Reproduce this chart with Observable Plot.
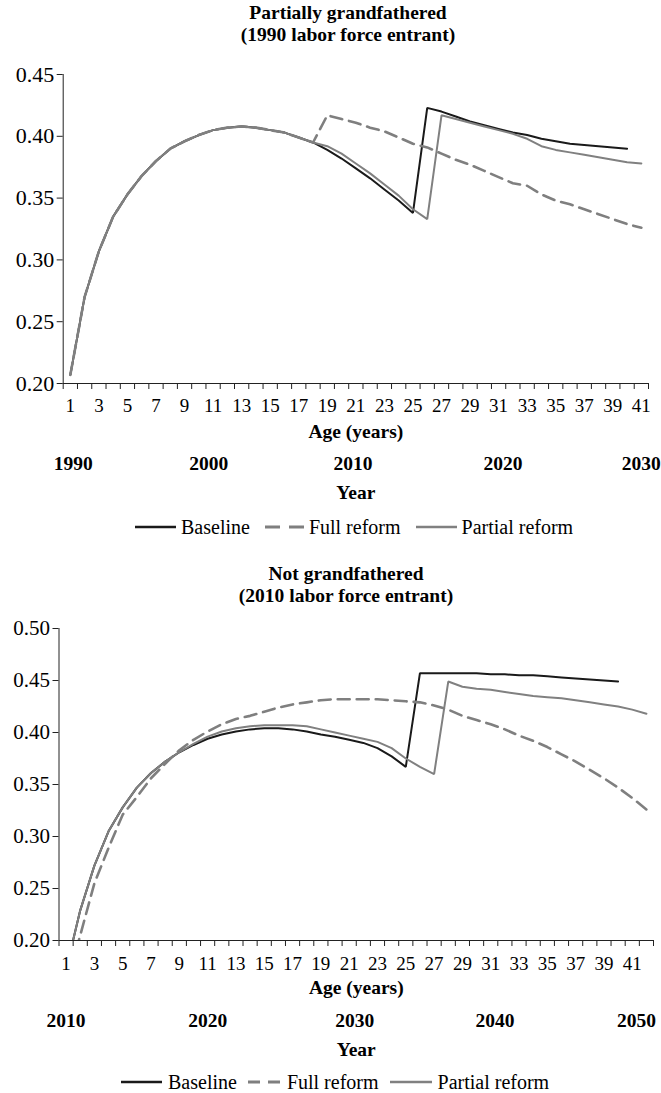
<!DOCTYPE html>
<html>
<head>
<meta charset="utf-8">
<script src="https://cdn.jsdelivr.net/npm/d3@7"></script>
<script src="https://cdn.jsdelivr.net/npm/@observablehq/plot@0.6"></script>
<style>
  html, body { margin: 0; padding: 0; background: #fff; }
  body { font-family: "Liberation Serif", "Times New Roman", serif; color: #000; }
  #wrap { position: relative; width: 661px; height: 1093px; overflow: hidden; }
  .title { position: absolute; text-align: center; font-weight: bold; font-size: 19.5px; line-height: 22px; }
  .chart { position: absolute; left: 0; }
  .legend { position: absolute; display: flex; align-items: center; font-size: 20px; line-height: 20px; white-space: nowrap; }
  .legend .item { display: flex; align-items: center; }
  .legend svg { display: block; }
</style>
</head>
<body>
<div id="wrap"></div>
<script>
// ---------------- DATA ----------------
// Panel 1: Partially grandfathered (1990 labor force entrant), ages 1..41
const ages1 = [1,2,3,4,5,6,7,8,9,10,11,12,13,14,15,16,17,18,19,20,21,22,23,24,25,26,27,28,29,30,31,32,33,34,35,36,37,38,39,40,41];
const baseline1 = [0.207,0.270,0.307,0.335,0.353,0.368,0.380,0.390,0.396,0.401,0.405,0.407,0.408,0.407,0.405,0.403,0.399,0.395,
  0.389,0.382,0.374,0.366,0.357,0.348,0.338,0.423,0.420,0.416,0.412,0.409,0.406,0.403,0.401,0.398,0.396,0.394,0.393,0.392,0.391,0.390];
const fullReform1 = [0.207,0.270,0.307,0.335,0.353,0.368,0.380,0.390,0.396,0.401,0.405,0.407,0.408,0.407,0.405,0.403,0.399,0.395,
  0.417,0.414,0.411,0.407,0.404,0.399,0.394,0.391,0.386,0.381,0.377,0.372,0.367,0.362,0.360,0.353,0.348,0.345,0.341,0.337,0.333,0.329,0.326];
const partialReform1 = [0.207,0.270,0.307,0.335,0.353,0.368,0.380,0.390,0.396,0.401,0.405,0.407,0.408,0.407,0.405,0.403,0.399,0.395,
  0.392,0.386,0.378,0.370,0.361,0.352,0.341,0.333,0.417,0.414,0.411,0.408,0.405,0.402,0.398,0.392,0.389,0.387,0.385,0.383,0.381,0.379,0.378];
const yTicks1 = [0.20,0.25,0.30,0.35,0.40,0.45];
const yearLabels1 = ["1990","2000","2010","2020","2030"];
const yearAges1 = [1.2,10.7,20.8,31.3,41.0];

// Panel 2: Not grandfathered (2010 labor force entrant), ages 1..42
const ages2 = [1,2,3,4,5,6,7,8,9,10,11,12,13,14,15,16,17,18,19,20,21,22,23,24,25,26,27,28,29,30,31,32,33,34,35,36,37,38,39,40,41,42];
const baseline2 = [0.172,0.229,0.272,0.305,0.328,0.347,0.361,0.372,0.381,0.388,0.394,0.398,0.401,0.403,0.404,0.404,0.403,0.401,0.398,0.396,
  0.393,0.390,0.385,0.377,0.367,0.457,0.457,0.457,0.457,0.457,0.456,0.456,0.455,0.455,0.454,0.453,0.452,0.451,0.450,0.449];
const fullReform2 = [0.155,0.205,0.255,0.289,0.321,0.338,0.356,0.370,0.383,0.393,0.401,0.408,0.413,0.416,0.420,0.424,0.427,0.429,0.431,0.432,
  0.432,0.432,0.432,0.431,0.430,0.429,0.426,0.422,0.416,0.412,0.408,0.403,0.397,0.392,0.386,0.379,0.372,0.364,0.356,0.347,0.337,0.326];
const partialReform2 = [0.172,0.229,0.272,0.305,0.328,0.347,0.361,0.372,0.381,0.389,0.396,0.401,0.404,0.406,0.407,0.407,0.407,0.406,0.403,0.400,
  0.397,0.394,0.391,0.385,0.375,0.367,0.360,0.449,0.444,0.442,0.441,0.439,0.437,0.435,0.434,0.433,0.431,0.429,0.427,0.425,0.422,0.418];
const yTicks2 = [0.20,0.25,0.30,0.35,0.40,0.45,0.50];
const yearLabels2 = ["2010","2020","2030","2040","2050"];
const yearAges2 = [1.0,11.0,21.4,31.3,41.3];

const ageTickLabels = [1,3,5,7,9,11,13,15,17,19,21,23,25,27,29,31,33,35,37,39,41];
const seriesNames = ["Baseline","Full reform","Partial reform"];

// ---------------- STYLE ----------------
const FONT = "Liberation Serif, Times New Roman, serif";
const styles = {
  "Baseline": {stroke: "#1a1a1a", strokeWidth: 2, dash: null},
  "Full reform": {stroke: "#7f7f7f", strokeWidth: 2.6, dash: "12,7"},
  "Partial reform": {stroke: "#808080", strokeWidth: 2, dash: null}
};

function rows(ages, vals) { return vals.map((v, i) => ({age: ages[i], v})); }

function panel(cfg) {
  const nCat = cfg.nCat;
  const boundaries = d3.range(0.5, nCat + 1, 1);
  const series = [cfg.baseline, cfg.full, cfg.partial];
  const lineMarks = seriesNames.map((name, k) => Plot.line(rows(cfg.ages, series[k]), {
    x: "age", y: "v",
    stroke: styles[name].stroke,
    strokeWidth: styles[name].strokeWidth,
    strokeDasharray: styles[name].dash,
    strokeLinejoin: "miter",
    clip: true
  }));
  const mid = (nCat + 1) / 2;
  return Plot.plot({
    width: 661,
    height: cfg.marginTop + cfg.plotH + cfg.marginBottom,
    marginTop: cfg.marginTop,
    marginBottom: cfg.marginBottom,
    marginLeft: cfg.marginLeft,
    marginRight: cfg.marginRight,
    style: {fontFamily: FONT, background: "#fff", color: "#000", overflow: "visible"},
    x: {domain: [0.5, nCat + 0.5], axis: null},
    y: {domain: [0.2, cfg.yMax], axis: null},
    marks: [
      Plot.axisY({ticks: cfg.yTicks, tickFormat: d3.format(".2f"), tickSize: 6, tickPadding: 3,
        fontSize: cfg.yFont, label: null, stroke: "#222"}),
      Plot.axisX({ticks: boundaries, tickFormat: () => "", tickSize: 6, label: null, stroke: "#222"}),
      Plot.axisX({ticks: ageTickLabels, tickSize: 0, tickPadding: 0, dy: cfg.tickDy,
        fontSize: 19, label: null, lineAnchor: "middle", textAnchor: "middle"}),
      Plot.ruleY([0.2], {stroke: "#222", strokeWidth: 1}),
      Plot.ruleX([0.5], {y1: 0.2, y2: cfg.yMax, stroke: "#222", strokeWidth: 1}),
      ...lineMarks,
      Plot.text(["Age (years)"], {x: [mid], text: d => d, frameAnchor: "bottom", dy: cfg.ageDy,
        fontWeight: "bold", fontSize: 19.5}),
      Plot.text(cfg.yearLabels, {x: cfg.yearAges, text: d => d, frameAnchor: "bottom", dy: cfg.yearDy,
        fontWeight: "bold", fontSize: 19.5}),
      Plot.text(["Year"], {x: [mid], text: d => d, frameAnchor: "bottom", dy: cfg.yearTitleDy,
        fontWeight: "bold", fontSize: 19.5})
    ]
  });
}

function legend(cfg) {
  const div = document.createElement("div");
  div.className = "legend";
  div.style.left = cfg.left + "px";
  div.style.top = cfg.top + "px";
  seriesNames.forEach((name, k) => {
    const item = document.createElement("div");
    item.className = "item";
    if (k > 0) item.style.marginLeft = cfg.itemGap + "px";
    const w = cfg.swatchW[k];
    const s = styles[name];
    const svg = d3.create("svg").attr("width", w).attr("height", 20);
    svg.append("line").attr("x1", 0).attr("x2", w).attr("y1", 10).attr("y2", 10)
      .attr("stroke", s.stroke).attr("stroke-width", s.strokeWidth + 0.4)
      .attr("stroke-dasharray", s.dash ? cfg.legendDash : null);
    item.appendChild(svg.node());
    const t = document.createElement("span");
    t.textContent = name;
    t.style.marginLeft = cfg.textGap + "px";
    item.appendChild(t);
    div.appendChild(item);
  });
  return div;
}

function title(lines, top, center) {
  const d = document.createElement("div");
  d.className = "title";
  d.style.top = top + "px";
  d.style.left = (center - 250) + "px";
  d.style.width = "500px";
  d.innerHTML = lines.map(l => `<div>${l}</div>`).join("");
  return d;
}

const wrap = document.getElementById("wrap");

// Panel 1
wrap.appendChild(title(["Partially grandfathered", "(1990 labor force entrant)"], 2, 348));
const p1 = panel({
  ages: ages1, baseline: baseline1, full: fullReform1, partial: partialReform1,
  nCat: 41, yMax: 0.45, yTicks: yTicks1, yFont: 22,
  yearLabels: yearLabels1, yearAges: yearAges1,
  marginTop: 24, plotH: 309, marginBottom: 125, marginLeft: 62.7, marginRight: 13,
  tickDy: 22, ageDy: 54, yearDy: 86, yearTitleDy: 115
});
p1.classList.add("chart");
p1.style.top = "50px";
p1.style.position = "absolute";
wrap.appendChild(p1);
wrap.appendChild(legend({left: 135, top: 517, itemGap: 15, textGap: 5, swatchW: [41, 39, 41], legendDash: "15,9"}));

// Panel 2
wrap.appendChild(title(["Not grandfathered", "(2010 labor force entrant)"], 563, 346));
const p2 = panel({
  ages: ages2, baseline: baseline2, full: fullReform2, partial: partialReform2,
  nCat: 42, yMax: 0.50, yTicks: yTicks2, yFont: 21,
  yearLabels: yearLabels2, yearAges: yearAges2,
  marginTop: 18, plotH: 312, marginBottom: 125, marginLeft: 58.5, marginRight: 8,
  tickDy: 23, ageDy: 53, yearDy: 86, yearTitleDy: 115
});
p2.classList.add("chart");
p2.style.top = "610px";
p2.style.position = "absolute";
wrap.appendChild(p2);
wrap.appendChild(legend({left: 121, top: 1072, itemGap: 11, textGap: 6, swatchW: [41, 33, 42], legendDash: "12,8"}));
</script>
</body>
</html>
